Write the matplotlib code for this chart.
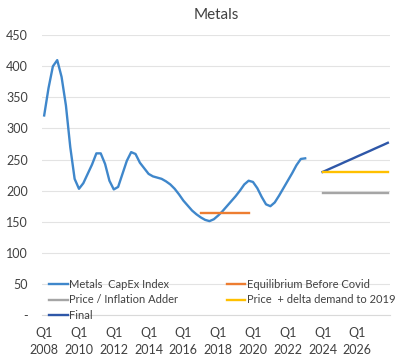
import matplotlib.pyplot as plt

# quarters from Q1 2008 (index 0) to Q4 2027 (index 79)
n_quarters = 80
tick_labels = ["Q1\n%d" % y for y in range(2008, 2028, 2)]

capex_index = [321, 365, 400, 410, 383, 337, 270, 219, 203, 212,
               227, 242, 260, 260, 243, 216, 202, 206, 227, 248,
               262, 259, 245, 236, 227, 223, 221, 219, 215, 210,
               203, 194, 184, 176, 168, 162, 157, 153, 151, 154,
               160, 167, 175, 183, 191, 200, 210, 216, 214, 204,
               190, 178, 175, 181, 192, 204, 216, 228, 241, 251,
               252]
equilibrium = [164] * 12          # Q1 2017 .. Q4 2019
equilibrium_start = 36
inflation_adder = [197] * 16      # Q1 2024 .. Q4 2027
delta_demand = [230] * 16
final = [230.0, 233.1, 236.3, 239.4, 242.5, 245.7, 248.8, 251.9,
         255.1, 258.2, 261.3, 264.4, 267.6, 270.7, 273.8, 277.0]
future_start = 64

plt.rcParams['font.family'] = ['Lato', 'DejaVu Sans']
text_col = "#404040"

fig = plt.figure(figsize=(4, 3.55), dpi=100)
ax = fig.add_axes([0.105, 0.1127, 0.87, 0.788])

ax.plot(range(len(capex_index)), capex_index, color="#3F87CB", lw=1.7,
        label="Metals  CapEx Index")
ax.plot(range(future_start, future_start + len(inflation_adder)), inflation_adder,
        color="#A5A5A5", lw=1.7, label="Price / Inflation Adder")
ax.plot(range(future_start, future_start + len(final)), final,
        color="#2E57A8", lw=1.7, label="Final")
ax.plot(range(equilibrium_start, equilibrium_start + len(equilibrium)), equilibrium,
        color="#ED7D31", lw=1.7, label="Equilibrium Before Covid")
ax.plot(range(future_start, future_start + len(delta_demand)), delta_demand,
        color="#FFC000", lw=1.7, label="Price  + delta demand to 2019")

ax.set_xlim(-0.5, n_quarters - 0.5)
ax.set_ylim(0, 450)
ax.set_yticks(range(0, 451, 50))
ax.set_yticklabels(["-"] + [str(v) for v in range(50, 451, 50)])
ax.set_xticks(range(0, n_quarters, 8))
ax.set_xticklabels(tick_labels, linespacing=1.45)
ax.tick_params(length=0, labelsize=9, colors=text_col)
ax.tick_params(axis="x", pad=9)
ax.tick_params(axis="y", pad=10)

ax.grid(axis="y", color="#E3E3E3", lw=0.8)
ax.set_axisbelow(True)
for s in ["top", "right", "left"]:
    ax.spines[s].set_visible(False)
ax.spines["bottom"].set_color("#D9D9D9")

ax.set_title("Metals", fontsize=11, color=text_col, pad=12)

ax.legend(loc="lower left", bbox_to_anchor=(0.0, -0.045), ncol=2, frameon=False,
          fontsize=8, handlelength=1.7, handletextpad=0.1, labelspacing=0.4,
          columnspacing=4.4, labelcolor=text_col, borderaxespad=0.2)

fig.savefig("out.png", dpi=100)
